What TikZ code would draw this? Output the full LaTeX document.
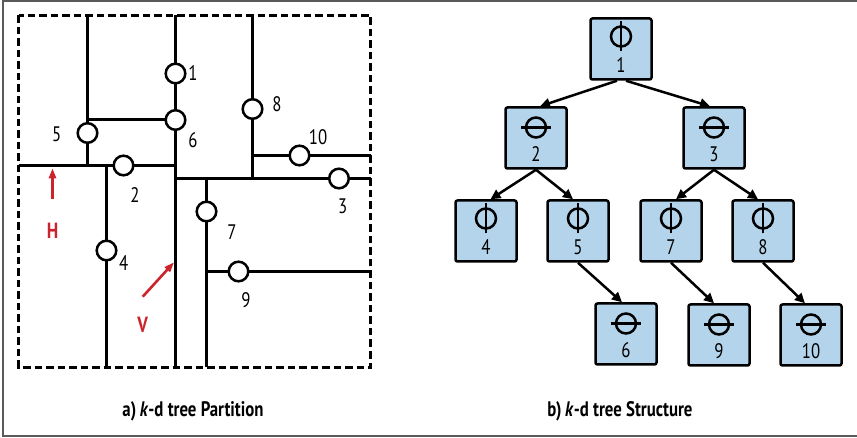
\documentclass[tikz,border=0pt]{standalone}
\usepackage{fontspec}
\setmainfont{PT Sans}[FakeStretch=0.8]
\usetikzlibrary{arrows.meta}
\definecolor{kdred}{RGB}{204,36,45}
\definecolor{kdblue}{RGB}{180,212,235}
\definecolor{framegray}{RGB}{90,90,90}
\begin{document}
\begin{tikzpicture}[x=1pt,y=-1pt,
  part/.style={line width=2.5pt},
  dashbox/.style={line width=2.5pt, dash pattern=on 7.5pt off 4pt},
  pt/.style={circle, draw, line width=2.5pt, fill=white, minimum size=19.6pt, inner sep=0pt},
  lbl/.style={inner sep=0pt, font=\fontsize{21}{21}\selectfont},
  redlbl/.style={inner sep=0pt, text=kdred, font=\fontsize{22}{22}\selectfont\bfseries},
  redarrow/.style={draw=kdred, line width=2.6pt, -{Triangle[length=10pt,width=7pt]}},
  box/.style={draw, line width=2.5pt, fill=kdblue, rounded corners=2pt, minimum size=61pt, inner sep=0pt},
  tarrow/.style={line width=2.5pt, -{Triangle[length=10pt,width=9.5pt]}},
  caption/.style={font=\fontsize{21}{21}\selectfont\bfseries, inner sep=0pt, anchor=base},
  sym/.style={line width=2.5pt},
  vsym/.pic={\draw[sym] (0,0) circle[radius=10pt]; \draw[sym] (0pt,-15pt)--(0pt,15pt);},
  hsym/.pic={\draw[sym] (0,0) circle[radius=10pt]; \draw[sym] (-15pt,0pt)--(15pt,0pt);}
]
\useasboundingbox (0,0) rectangle (857,438);
% outer frame
\draw[framegray, line width=1.5pt] (857,1) -- (3,1) -- (3,436) -- (857,436);

% ---- left panel: partition ----
\draw[dashbox] (18.5,15.5) rectangle (370.5,367.5);
\coordinate (aT) at (87.5,15.5);  \coordinate (aB) at (87.5,165.5);
\coordinate (bL) at (87.5,119.5); \coordinate (bR) at (175.5,119.5);
\coordinate (cT) at (175.5,15.5);   \coordinate (cB) at (175.5,367.5);
\coordinate (hL) at (18.5,165.5);   \coordinate (hR) at (175.5,165.5);
\coordinate (dT) at (106.5,165.5);  \coordinate (dB) at (106.5,367.5);
\coordinate (eL) at (175.5,178.5);  \coordinate (eR) at (370.5,178.5);
\coordinate (fT) at (252.5,15.5); \coordinate (fB) at (252.5,178.5);
\coordinate (gL) at (252.5,155.5);  \coordinate (gR) at (370.5,155.5);
\coordinate (iT) at (206.5,178.5);\coordinate (iB) at (206.5,367.5);
\coordinate (jL) at (206.5,271.5);\coordinate (jR) at (370.5,271.5);
\draw[part] (aT) -- (aB);
\draw[part] (bL) -- (bR);
\draw[part] (cT) -- (cB);
\draw[part] (hL) -- (hR);
\draw[part] (dT) -- (dB);
\draw[part] (eL) -- (eR);
\draw[part] (fT) -- (fB);
\draw[part] (gL) -- (gR);
\draw[part] (iT) -- (iB);
\draw[part] (jL) -- (jR);

\node[pt] (p1) at (175.5,73.5) {};
\node[pt] (p6) at (175.5,120) {};
\node[pt] (p5) at (87.5,133) {};
\node[pt] (p2) at (123.5,165.5) {};
\node[pt] (p4) at (106.5,250.5) {};
\node[pt] (p8) at (252.5,109) {};
\node[pt] (p10) at (299.5,155.5) {};
\node[pt] (p3) at (339,178.5) {};
\node[pt] (p7) at (206.5,211.5) {};
\node[pt] (p9) at (238.5,271.5) {};

\node[lbl] (q1) at (193,72.7) {1};
\node[lbl] (q8) at (277,104) {8};
\node[lbl] (q5) at (56.7,134.7) {5};
\node[lbl] (q6) at (193,140) {6};
\node[lbl] (q10) at (318,136.7) {10};
\node[lbl] (q2) at (135,195) {2};
\node[lbl] (q3) at (342.7,206.7) {3};
\node[lbl] (q7) at (232,232) {7};
\node[lbl] (q4) at (123.7,263) {4};
\node[lbl] (q9) at (246,300) {9};

\node[redlbl] (hl) at (52.5,231.3) {H};
\node[redlbl] (vl) at (142.7,325) {V};
\coordinate (hs) at (52.5,199);   \coordinate (he) at (52.5,168.3);
\coordinate (vs) at (142.7,296.7);\coordinate (ve) at (174,262.3);
\draw[redarrow] (hs) -- (he);
\draw[redarrow] (vs) -- (ve);

\node[caption] (capa) at (193,416) {a)\,\textit{k}-d tree Partition};

% ---- right panel: tree ----
\node[box] (n1) at (621,49) {};
\node[box] (n2) at (536,138) {};
\node[box] (n3) at (714,138) {};
\node[box] (n4) at (486,231) {};
\node[box] (n5) at (578,231) {};
\node[box] (n7) at (671,231) {};
\node[box] (n8) at (763,231) {};
\node[box] (n6) at (626,334) {};
\node[box] (n9) at (719,335) {};
\node[box] (n10) at (811,335) {};

\foreach \n in {1,4,5,7,8}{
  \pic at ([yshift=12.5pt]n\n.center) {vsym};
  \node[lbl] (t\n) at ([yshift=-16.5pt]n\n.center) {\n};
}
\foreach \n in {2,3,6,9,10}{
  \pic at ([yshift=10.5pt]n\n.center) {hsym};
  \node[lbl] (t\n) at ([yshift=-16.5pt]n\n.center) {\n};
}

\draw[tarrow] ([xshift=-4pt]n1.south) -- ([xshift=4pt]n2.north);
\draw[tarrow] ([xshift=5pt]n1.south) -- ([xshift=-4pt]n3.north);
\draw[tarrow] (n2.south) -- ([xshift=4.5pt]n4.north);
\draw[tarrow] (n2.south) -- ([xshift=-5pt]n5.north);
\draw[tarrow] (n3.south) -- ([xshift=5pt]n7.north);
\draw[tarrow] (n3.south) -- ([xshift=-5pt]n8.north);
\draw[tarrow] (n5.south) -- ([xshift=-4pt]n6.north);
\draw[tarrow] (n7.south) -- ([xshift=-5pt]n9.north);
\draw[tarrow] (n8.south) -- ([xshift=-6pt]n10.north);

\node[caption] (capb) at (620,416) {b)\,\textit{k}-d tree Structure};
\end{tikzpicture}
\end{document}
